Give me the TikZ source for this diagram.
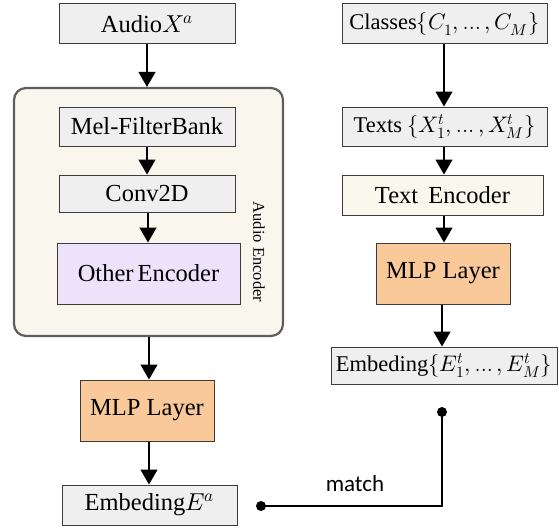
\documentclass[tikz,border=0pt]{standalone}
\usepackage{fontspec}
\usepackage{unicode-math}
\setmainfont{Liberation Serif}
\newfontfamily\matchfont{Carlito}
\usetikzlibrary{arrows.meta}
\definecolor{boxgray}{HTML}{EFEFEF}
\definecolor{bordergray}{HTML}{3C3C3C}
\definecolor{encfill}{HTML}{F9F6EE}
\definecolor{encborder}{HTML}{5E5E5E}
\definecolor{lavender}{HTML}{EDE2FA}
\definecolor{peach}{HTML}{F9C99A}
\definecolor{cream}{HTML}{FAF7EC}
\tikzset{
  x=1pt, y=1pt,
  blk/.style={draw=bordergray, line width=1pt, inner sep=0pt, align=center,
    font=\fontsize{24.5}{28}\selectfont},
  graybox/.style={blk, fill=boxgray},
  mathbox/.style={graybox, font=\fontsize{22.5}{26}\selectfont},
  arr/.style={line width=1.2pt, -{Triangle[length=15pt,width=17pt]}},
  link/.style={line width=1.2pt},
  dotc/.style={circle, fill=black, inner sep=0pt, minimum size=10pt}
}
\newcommand{\tdots}{\mathinner{\ldotp\!\ldotp\!\ldotp}}
\begin{document}
\begin{tikzpicture}
\useasboundingbox (0,0) rectangle (559,-527);
% left column
\node[graybox, minimum width=176pt, minimum height=40pt] (audio) at (147,-24) {Audio$X^{a}$};
\node[draw=encborder, fill=encfill, line width=2.2pt, rounded corners=12pt, minimum width=269pt, minimum height=248pt] (enc) at (148.5,-212) {};
\node[graybox, minimum width=176pt, minimum height=39pt] (mel) at (147,-126.5) {Mel-FilterBank};
\node[graybox, minimum width=176pt, minimum height=37pt] (conv) at (147,-193.5) {Conv2D};
\node[blk, fill=lavender, minimum width=183pt, minimum height=61pt] (other) at (148.5,-273.5) {Other\,Encoder};
\node[rotate=-90, font=\fontsize{16.5}{19}\selectfont] (enclabel) at (259,-252) {Audio Encoder};
\node[blk, fill=peach, minimum width=134pt, minimum height=61pt] (mlpl) at (147,-410.5) {MLP Layer};
\node[graybox, minimum width=175pt, minimum height=40pt] (embl) at (149.5,-505) {Embeding$E^{a}$};
% right column
\node[mathbox, minimum width=205pt, minimum height=40pt] (classes) at (444.5,-24) {Classes$\{C_1,\tdots,C_M\}$};
\node[mathbox, minimum width=205pt, minimum height=39pt] (texts) at (444.5,-126.5) {Texts $\{X_1^{t},\tdots,X_M^{t}\}$};
\node[blk, fill=cream, minimum width=201pt, minimum height=40pt] (tenc) at (442.5,-195) {Text\, Encoder};
\node[blk, fill=peach, minimum width=134pt, minimum height=61pt] (mlpr) at (443,-273.5) {MLP Layer};
\node[mathbox, minimum width=226pt, minimum height=37pt] (embr) at (444,-365.5) {Embeding$\{E_1^{t},\tdots,E_M^{t}\}$};
% arrows left
\draw[arr] (audio.south) -- (audio.south |- enc.north);
\draw[arr] (mel.south) -- (mel.south |- conv.north);
\draw[arr] ([xshift=1pt]conv.south) -- ([xshift=1pt]conv.south |- other.north);
\draw[arr] ([xshift=0.5pt]enc.south) -- ([xshift=0.5pt]enc.south |- mlpl.north);
\draw[arr] ([xshift=2pt]mlpl.south) -- ([xshift=2pt]mlpl.south |- embl.north);
% arrows right
\draw[arr] ([xshift=-0.5pt]classes.south) -- ([xshift=-0.5pt]classes.south |- texts.north);
\draw[arr] ([xshift=-0.5pt]texts.south) -- ([xshift=-0.5pt]texts.south |- tenc.north);
\draw[arr] ([xshift=1.5pt]tenc.south) -- ([xshift=1.5pt]tenc.south |- mlpr.north);
\draw[arr] ([xshift=-1pt]mlpr.south) -- ([xshift=-1pt]mlpr.south |- embr.north);
% match connector
\node[dotc] (d1) at (261,-506) {};
\node[dotc] (d2) at (442,-412) {};
\draw[link] (d1.center) -- (d1.center -| d2.center) -- (d2.center);
\node[font=\matchfont\fontsize{23}{27}\selectfont] (match) at (355,-484) {match};
\end{tikzpicture}
\end{document}
